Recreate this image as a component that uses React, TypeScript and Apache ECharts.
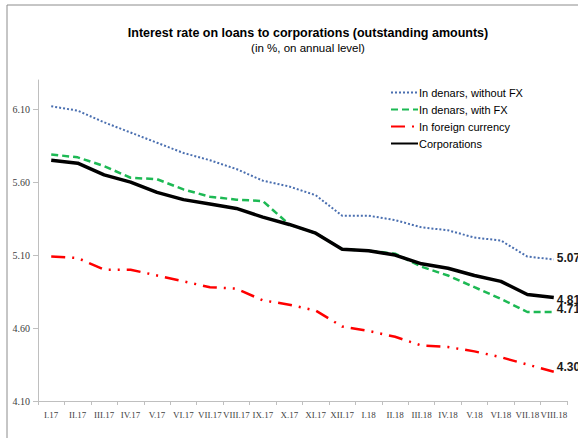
import React, { useEffect, useRef } from "react";
import * as echarts from "echarts";

const categories = ["I.17","II.17","III.17","IV.17","V.17","VI.17","VII.17","VIII.17","IX.17","X.17","XI.17","XII.17","I.18","II.18","III.18","IV.18","V.18","VI.18","VII.18","VIII.18"];
const withoutFX = [6.12,6.09,6.01,5.94,5.87,5.80,5.75,5.69,5.61,5.57,5.51,5.37,5.37,5.34,5.29,5.27,5.22,5.20,5.09,5.07];
const withFX = [5.79,5.77,5.71,5.63,5.62,5.55,5.50,5.48,5.47,5.31,5.25,5.14,5.13,5.11,5.02,4.96,4.88,4.80,4.71,4.71];
const foreignCurrency = [5.09,5.08,5.00,5.00,4.96,4.92,4.88,4.87,4.79,4.76,4.72,4.61,4.58,4.54,4.48,4.47,4.44,4.40,4.35,4.30];
const corporations = [5.75,5.73,5.65,5.60,5.53,5.48,5.45,5.42,5.36,5.31,5.25,5.14,5.13,5.10,5.04,5.01,4.96,4.92,4.83,4.81];
const seriesNames = ["In denars, without FX","In denars, with FX","In foreign currency","Corporations"];

const yMin = 4.1;
const yMax = 6.3;
const yStep = 0.5;

function endLabel(dy: number) {
  return {
    show: true,
    distance: 3,
    offset: [0, dy],
    formatter: (p: any) => Number(p.value).toFixed(2),
    fontFamily: "Liberation Sans",
    fontWeight: "bold",
    fontSize: 12,
    color: "#1a1a1a",
  };
}

export default function App() {
  const ref = useRef<HTMLDivElement>(null);
  useEffect(() => {
    document.body.style.margin = "0";
    const chart = echarts.init(ref.current!, null, { renderer: "svg" });
    chart.setOption({
      animation: false,
      backgroundColor: "#ffffff",
      graphic: [
        {
          type: "rect",
          shape: { x: 7, y: 5, width: 700, height: 600 },
          style: { fill: "none", stroke: "#8c8c8c", lineWidth: 1 },
          silent: true,
        },
      ],
      title: {
        text: "Interest rate on loans to corporations (outstanding amounts)",
        subtext: "(in %, on annual level)",
        left: 303,
        textAlign: "center",
        top: 21,
        itemGap: 3,
        textStyle: { fontFamily: "Liberation Sans", fontWeight: "bold", fontSize: 12.5, color: "#000" },
        subtextStyle: { fontFamily: "Liberation Sans", fontSize: 11.5, color: "#000" },
      },
      legend: {
        orient: "vertical",
        left: 385,
        top: 82,
        itemWidth: 27,
        itemHeight: 11,
        itemGap: 6,
        itemStyle: { opacity: 0 },
        data: seriesNames,
        textStyle: { fontFamily: "Liberation Sans", fontSize: 11, color: "#000", padding: [0, 0, 0, -4] },
      },
      grid: { left: 38, right: 11, top: 80, bottom: 37, containLabel: false },
      xAxis: {
        type: "category",
        data: categories,
        boundaryGap: true,
        axisLine: { lineStyle: { color: "#bfbfbf" } },
        axisTick: { show: true, alignWithLabel: false, lineStyle: { color: "#bfbfbf" }, length: 4 },
        axisLabel: { interval: 0, fontFamily: "Liberation Serif", fontSize: 9, color: "#404040", margin: 9 },
      },
      yAxis: {
        type: "value",
        min: yMin,
        max: yMax,
        interval: yStep,
        axisLine: { show: true, lineStyle: { color: "#bfbfbf" } },
        axisTick: { show: true, lineStyle: { color: "#bfbfbf" }, length: 5 },
        splitLine: { show: false },
        axisLabel: {
          showMaxLabel: false,
          fontFamily: "Liberation Serif",
          fontSize: 10,
          color: "#404040",
          margin: 8,
          formatter: (v: number) => {
            const k = (v - yMin) / yStep;
            return Math.abs(k - Math.round(k)) < 1e-6 ? v.toFixed(2) : "";
          },
        },
      },
      series: [
        {
          name: seriesNames[0],
          type: "line",
          symbol: "none",
          data: withoutFX,
          endLabel: endLabel(-1),
          lineStyle: { color: "#4a6fb0", width: 2, type: [2, 2] },
          itemStyle: { color: "#4a6fb0" },
        },
        {
          name: seriesNames[1],
          type: "line",
          symbol: "none",
          data: withFX,
          endLabel: endLabel(-3),
          lineStyle: { color: "#1db954", width: 2.5, type: [7, 4] },
          itemStyle: { color: "#1db954" },
        },
        {
          name: seriesNames[2],
          type: "line",
          symbol: "none",
          data: foreignCurrency,
          endLabel: endLabel(-5),
          lineStyle: { color: "#ff0000", width: 2.5, type: [14, 7, 2, 7, 2, 7] },
          itemStyle: { color: "#ff0000" },
        },
        {
          name: seriesNames[3],
          type: "line",
          symbol: "none",
          data: corporations,
          endLabel: endLabel(3),
          lineStyle: { color: "#000000", width: 3.5 },
          itemStyle: { color: "#000000" },
          z: 3,
        },
      ],
    });
    return () => chart.dispose();
  }, []);
  return <div ref={ref} style={{ width: 578, height: 438 }} />;
}
